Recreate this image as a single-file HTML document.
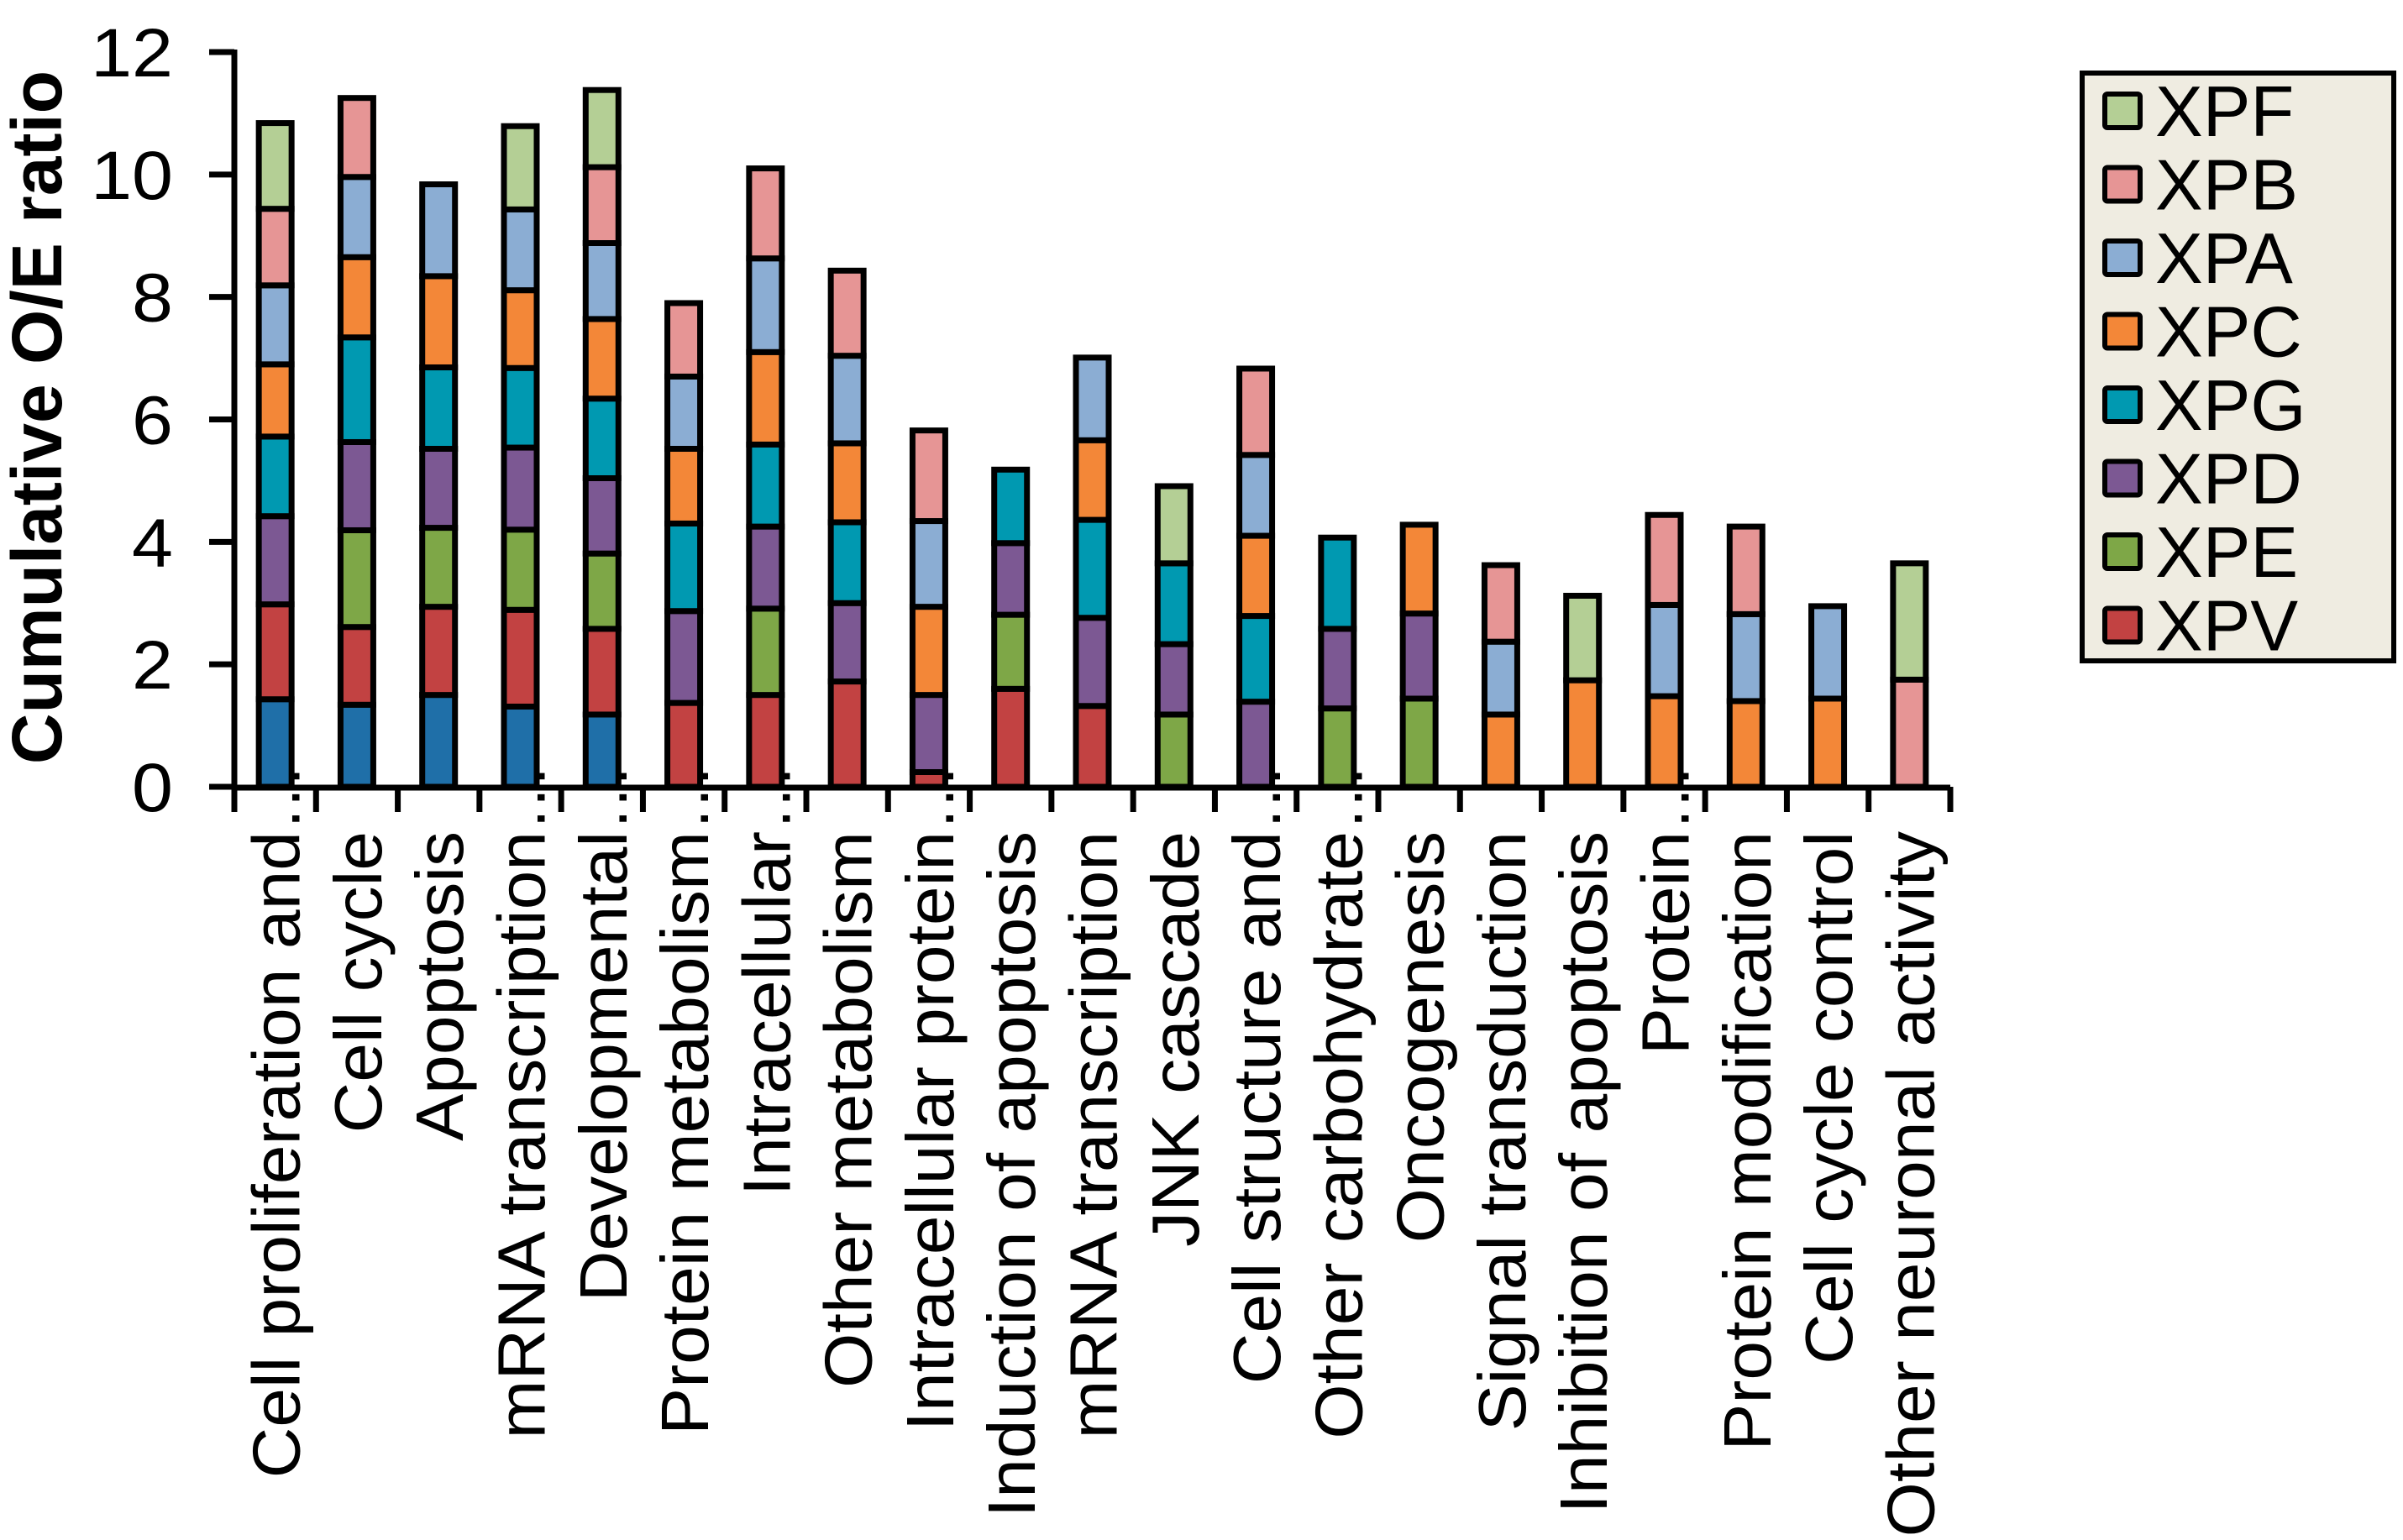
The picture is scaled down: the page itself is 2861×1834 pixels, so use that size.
<!DOCTYPE html>
<html><head><meta charset="utf-8"><style>
html,body{margin:0;padding:0;background:#fff;}
svg{display:block;font-family:"Liberation Sans",Arial,sans-serif;}
</style></head><body>
<svg id="chart" width="2861" height="1834" viewBox="0 0 2861 1834" xmlns="http://www.w3.org/2000/svg">
<g id="bars"></g>
<g id="axes"></g>
<g id="legend"></g>
</svg>
<script>
const categories = ["Cell proliferation and","Cell cycle","Apoptosis","mRNA transcription","Developmental","Protein metabolism","Intracellular","Other metabolism","Intracellular protein","Induction of apoptosis","mRNA transcription","JNK cascade","Cell structure and","Other carbohydrate","Oncogenesis","Signal transduction","Inhibition of apoptosis","Protein","Protein modification","Cell cycle control","Other neuronal activity"];
const truncated = [1,0,0,1,1,1,1,0,1,0,0,0,1,1,0,0,0,1,0,0,0];
const seriesNames = ["XPX","XPV","XPE","XPD","XPG","XPC","XPA","XPB","XPF"];
const seriesColors = ["#1F6FA8","#C24242","#7EA747","#7C5893","#0099B1","#F38738","#8BADD3","#E69595","#B4CF95"];
const sXPX = [1.43,1.34,1.50,1.31,1.18,0,0,0,0,0,0,0,0,0,0,0,0,0,0,0,0];
const sXPV = [1.55,1.27,1.44,1.58,1.40,1.37,1.50,1.72,0.24,1.60,1.32,0,0,0,0,0,0,0,0,0,0];
const sXPE = [0,1.58,1.29,1.31,1.23,0,1.41,0,0,1.21,0,1.18,0,1.28,1.44,0,0,0,0,0,0];
const sXPD = [1.44,1.44,1.29,1.34,1.23,1.50,1.34,1.28,1.26,1.17,1.44,1.15,1.39,1.30,1.39,0,0,0,0,0,0];
const sXPG = [1.30,1.71,1.33,1.30,1.30,1.43,1.34,1.32,0,1.20,1.60,1.32,1.40,1.49,0,0,0,0,0,0,0];
const sXPC = [1.18,1.31,1.49,1.27,1.30,1.22,1.51,1.29,1.44,0,1.30,0,1.31,0,1.45,1.18,1.74,1.48,1.40,1.44,0];
const sXPA = [1.29,1.31,1.50,1.32,1.24,1.18,1.53,1.43,1.40,0,1.35,0,1.32,0,0,1.19,0,1.49,1.42,1.51,0];
const sXPB = [1.25,1.29,0,0,1.24,1.20,1.47,1.39,1.48,0,0,0,1.41,0,0,1.25,0,1.47,1.43,0,1.75];
const sXPF = [1.40,0,0,1.36,1.26,0,0,0,0,0,0,1.26,0,0,0,0,1.38,0,0,0,1.90];
const series = [sXPX,sXPV,sXPE,sXPD,sXPG,sXPC,sXPA,sXPB,sXPF];
const yTicks = ["0","2","4","6","8","10","12"];
const legendOrder = ["XPF","XPB","XPA","XPC","XPG","XPD","XPE","XPV"];

const NS="http://www.w3.org/2000/svg";
const X0=279, X1=2322, Y0=937, YMAX=12, PPU=(937-62)/12;
const band=(X1-X0)/categories.length;
function xC(i){return X0+band*(i+0.5);}
function yS(v){return Y0-v*PPU;}
function mk(tag,attrs,parent){const e=document.createElementNS(NS,tag);for(const k in attrs)e.setAttribute(k,attrs[k]);parent.appendChild(e);return e;}
const bars=document.getElementById('bars'),axes=document.getElementById('axes'),leg=document.getElementById('legend');
const BW=39;
categories.forEach((c,i)=>{
  let cum=0;
  series.forEach((s,k)=>{
    const v=s[i]; if(!v) return;
    const r=mk('rect',{x:xC(i)-BW/2,y:yS(cum+v),width:BW,height:v*PPU,fill:seriesColors[k],stroke:'#000','stroke-width':7},bars);
    
    
    cum+=v;
  });
});
let l=mk('line',{x1:X0,y1:Y0+1,x2:X1,y2:Y0+1,stroke:'#000','stroke-width':7},axes);

l=mk('line',{x1:X0,y1:Y0+4,x2:X0,y2:yS(YMAX)-3,stroke:'#000','stroke-width':7},axes);

yTicks.forEach((t,j)=>{
  const v=+t,y=yS(v);
  const tk=mk('line',{x1:X0-30,y1:y,x2:X0,y2:y,stroke:'#000','stroke-width':7},axes);
  
  const tx=mk('text',{x:0,y:0,transform:`translate(206,${y+29}) scale(1.1,1.02)`,'text-anchor':'end','font-size':80},axes);
  tx.textContent=t;
  
});
for(let i=0;i<=categories.length;i++){
  const x=X0+band*i;
  const tk=mk('line',{x1:x,y1:Y0,x2:x,y2:Y0+30,stroke:'#000','stroke-width':7},axes);
  
}
categories.forEach((c,i)=>{
  const bx=xC(i)+29;
  const tx=mk('text',{x:0,y:0,transform:`translate(${bx},990) rotate(-90) scale(1.05,1)`,'text-anchor':'end','font-size':80},axes);
  tx.textContent=c;
  
  if(truncated[i]){
    const el=mk('text',{x:0,y:0,transform:`translate(${bx},986) rotate(-90)`,'text-anchor':'start','font-size':80,'letter-spacing':3},axes);
    el.textContent='...';
    
  }
});
const yt=mk('text',{x:0,y:0,transform:'translate(73,497) rotate(-90)','text-anchor':'middle','font-size':84,'font-weight':'bold'},axes);
yt.textContent='Cumulative O/E ratio';

const lb=mk('rect',{x:2479,y:87,width:371,height:700,fill:'#EFECE1',stroke:'#000','stroke-width':6},leg);

legendOrder.forEach((n,j)=>{
  const k=seriesNames.indexOf(n), cy=132+j*87.5;
  const g=mk('g',{},leg);
  
  const sw=mk('rect',{x:2506,y:cy-20,width:42,height:40,rx:3,fill:seriesColors[k],stroke:'#000','stroke-width':6},g);
  
  const t=mk('text',{x:2566,y:cy+30,'font-size':85},g);
  t.textContent=n;
  
});
</script>
</body></html>
